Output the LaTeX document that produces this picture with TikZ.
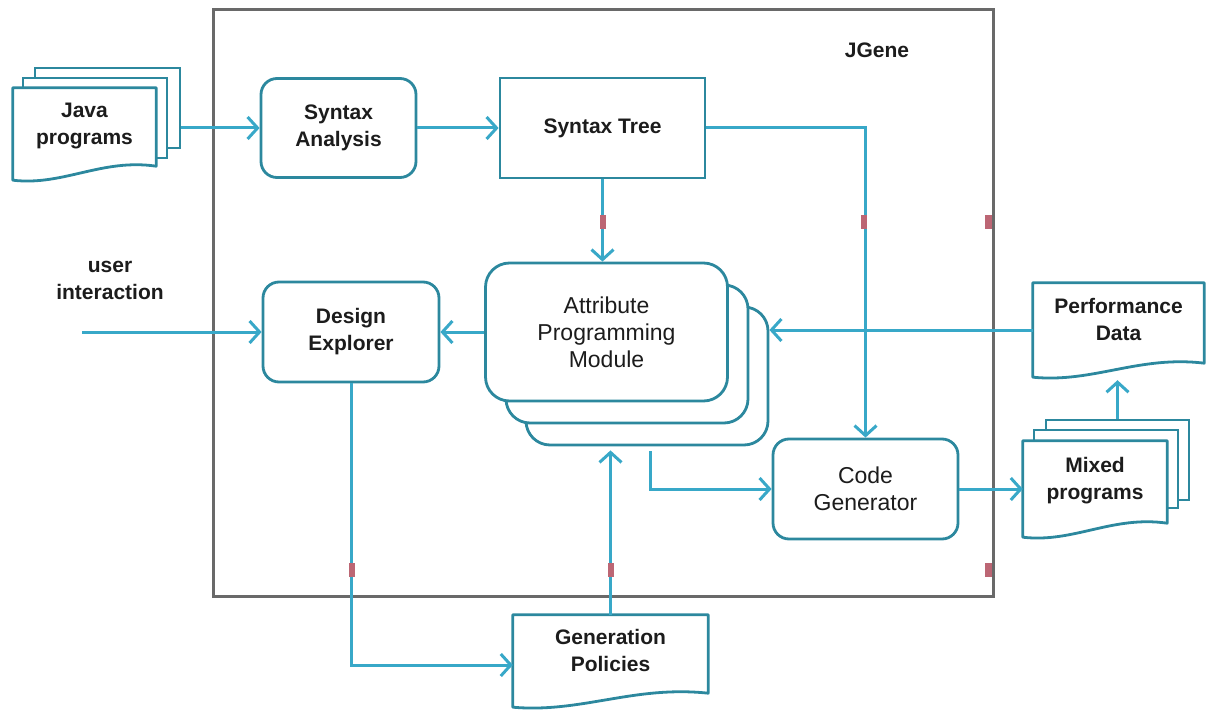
\documentclass[tikz,border=0pt]{standalone}
\usepackage{fontspec}
\setmainfont{Liberation Sans}
\usetikzlibrary{arrows.meta,calc,backgrounds}

\definecolor{linec}{RGB}{56,168,200}
\definecolor{boxc}{RGB}{44,136,158}
\definecolor{framec}{RGB}{105,105,105}
\definecolor{txt}{RGB}{28,28,28}
\definecolor{pin}{RGB}{188,102,116}

% raise multi-line text inside a document shape without changing its box
\newcommand\rb[1]{\raisebox{8pt}[\height][\depth]{\begin{tabular}{@{}c@{}}#1\end{tabular}}}

\begin{document}
\begin{tikzpicture}[x=1pt,y=-1pt,
  boldfont/.style={font=\fontsize{21}{27}\selectfont\bfseries},
  lbl/.style={boldfont, text=txt, align=center, inner sep=0},
  rbox/.style={draw=boxc, line width=2.8pt, fill=white, rounded corners=16pt, inner sep=0,
               boldfont, text=txt, align=center},
  sbox/.style={rbox, rounded corners=0pt},
  mbox/.style={rbox, rounded corners=24pt, minimum width=242pt, minimum height=138pt},
  lightbox/.style={font=\fontsize{23}{27}\selectfont},
  stackrect/.style={draw=boxc, line width=2.8pt, fill=white, inner sep=0},
  docnode/.style={inner sep=0, boldfont, text=txt},
  docline/.style={draw=boxc, line width=2.8pt, fill=white, line join=round},
  docpath/.style={insert path={(#1.south west) -- (#1.north west) -- (#1.north east)
      -- ([yshift=14pt]#1.south east)
      .. controls ($(#1.south west)!0.62!(#1.south east)+(0pt,22pt)$)
         and ($(#1.south west)!0.35!(#1.south east)+(0pt,-6pt)$) .. (#1.south west) -- cycle}},
  arr/.style={draw=linec, line width=3pt, -{Straight Barb[length=10pt,width=22pt,line width=3pt]}},
  pinmark/.style={fill=pin}
]
\useasboundingbox (0,0) rectangle (1209,711);

% system frame
\node[draw=framec, line width=3pt, minimum width=780pt, minimum height=586pt, inner sep=0]
  (frame) at (603,303) {};
\node[lbl] (title) at (877,50) {JGene};

% processing blocks
\node[rbox, minimum width=155pt, minimum height=99pt] (sa) at (338.5,128) {Syntax\\Analysis};
\node[sbox, minimum width=205pt, minimum height=100pt] (st) at (602.5,128) {Syntax Tree};
\node[rbox, minimum width=176pt, minimum height=100pt] (de) at (351,332) {Design\\Explorer};
\node[rbox, lightbox, minimum width=185pt, minimum height=100pt] (cg) at (865.5,489) {Code\\Generator};

% stacked attribute programming module
\node[mbox] (apm3) at (647,376) {};
\node[mbox] (apm2) at (627,354) {};
\node[mbox, lightbox] (apm) at (606.5,332) {Attribute\\Programming\\Module};

% document shapes
\node[docnode, minimum width=143pt, minimum height=92pt] (java) at (84.5,134) {\rb{Java\\programs}};
\node[docnode, minimum width=171pt, minimum height=94pt] (perf) at (1118.5,330) {\rb{Performance\\Data}};
\node[docnode, minimum width=144pt, minimum height=96pt] (mixed) at (1095,489) {\rb{Mixed\\programs}};
\node[docnode, minimum width=195pt, minimum height=92pt] (gp) at (610.5,661) {\rb{Generation\\Policies}};

\begin{pgfonlayer}{background}
  \node[stackrect, minimum width=145pt, minimum height=80pt] (java3) at (107.5,108) {};
  \node[stackrect, minimum width=144pt, minimum height=80pt] (java2) at (95,118) {};
  \path[docline, docpath=java];
  \node[stackrect, minimum width=143pt, minimum height=80pt] (mixed3) at (1117.5,460) {};
  \node[stackrect, minimum width=144pt, minimum height=78pt] (mixed2) at (1106,469) {};
  \path[docline, docpath=mixed];
  \path[docline, docpath=perf];
  \path[docline, docpath=gp];
\end{pgfonlayer}

% external input
\node[lbl] (ui) at (110,280) {user\\interaction};
\coordinate (uin) at (82,332);

% connectors
\draw[arr] (sa.west -| java3.east) -- (sa.west);
\draw[arr] (sa.east) -- (st.west);
\draw[arr] (st.south) -- (st.south |- apm.north);
\draw[arr] (st.east) -| (cg.north);
\draw[arr] (apm.west) -- (de.east);
\draw[arr] (uin) -- (de.west);
\draw[arr] (perf.west) -- (perf.west -| apm3.east);
\draw[arr] (de.south) |- ([yshift=-4pt]gp.west);
\draw[arr] (gp.north) -- ([yshift=-4pt]gp.north |- apm3.south);
\draw[arr] ([xshift=3pt,yshift=-5pt]apm3.south) |- (cg.west);
\draw[arr] (cg.east) -- (mixed.west);
\draw[arr] (mixed3.north) -- ([yshift=-3pt]mixed3.north |- perf.south);

% connection point marks
\fill[pinmark] (600,215) rectangle (606,229);
\fill[pinmark] (861,215) rectangle (867,229);
\fill[pinmark] (985,215) rectangle (992,229);
\fill[pinmark] (985,563) rectangle (992,577);
\fill[pinmark] (349,563) rectangle (355,577);
\fill[pinmark] (608,563) rectangle (614,577);
\end{tikzpicture}
\end{document}
